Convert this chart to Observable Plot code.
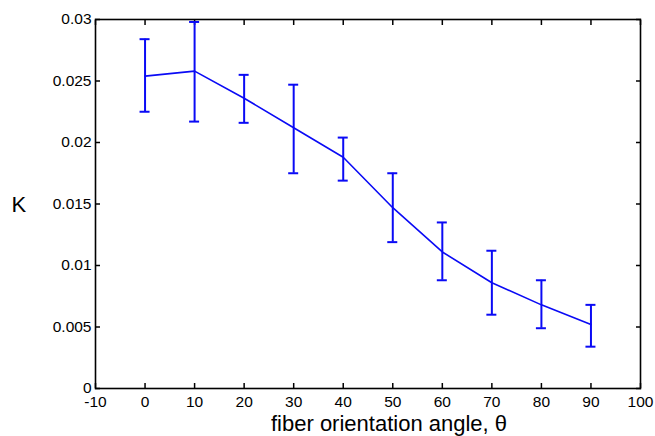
<!DOCTYPE html>
<html>
<head>
<meta charset="utf-8">
<script src="https://cdn.jsdelivr.net/npm/d3@7"></script>
<script src="https://cdn.jsdelivr.net/npm/@observablehq/plot@0.6"></script>
<style>
  html, body { margin: 0; padding: 0; background: #fff; }
  #chart g[aria-label="x-axis tick label"],
  #chart g[aria-label="y-axis tick label"] { font-size: 15.5px; fill: #000; }
</style>
</head>
<body>
<div id="chart"></div>
<script>
// Data
const angles = [0, 10, 20, 30, 40, 50, 60, 70, 80, 90];
const kMean  = [0.0254, 0.0258, 0.0236, 0.0212, 0.0188, 0.0147, 0.0111, 0.0086, 0.0068, 0.0052];
const kUpper = [0.0284, 0.0298, 0.0255, 0.0247, 0.0204, 0.0175, 0.0135, 0.0112, 0.0088, 0.0068];
const kLower = [0.0225, 0.0217, 0.0216, 0.0175, 0.0169, 0.0119, 0.0088, 0.0060, 0.0049, 0.0034];

const xTicks = [-10, 0, 10, 20, 30, 40, 50, 60, 70, 80, 90, 100];
const xTickLabels = ["-10", "0", "10", "20", "30", "40", "50", "60", "70", "80", "90", "100"];
const yTicks = [0, 0.005, 0.01, 0.015, 0.02, 0.025, 0.03];
const yTickLabels = ["0", "0.005", "0.01", "0.015", "0.02", "0.025", "0.03"];

const xLabel = "fiber orientation angle, \u03b8";
const yLabel = "K";

const data = angles.map((a, i) => ({x: a, k: kMean[i], hi: kUpper[i], lo: kLower[i]}));
const blue = "#0a0af5";
const font = "'Liberation Sans', Arial, Helvetica, sans-serif";

const chart = Plot.plot({
  width: 655,
  height: 436,
  marginLeft: 95,
  marginRight: 15,
  marginTop: 19,
  marginBottom: 48,
  style: {fontFamily: font, fontSize: "15.5px", color: "#000", background: "#fff"},
  x: {domain: [-10, 100]},
  y: {domain: [0, 0.03]},
  marks: [
    Plot.frame({stroke: "#000", strokeWidth: 1.6}),
    Plot.axisX({anchor: "bottom", ticks: xTicks, tickFormat: (d) => xTickLabels[xTicks.indexOf(d)], tickSize: -5, tickPadding: 12, strokeWidth: 1.5, label: null}),
    Plot.axisX({anchor: "top", ticks: xTicks, tickFormat: () => "", tickSize: -5, strokeWidth: 1.5, label: null}),
    Plot.axisY({anchor: "left", ticks: yTicks, tickFormat: (d) => yTickLabels[yTicks.indexOf(d)], tickSize: -5, tickPadding: 9, strokeWidth: 1.5, label: null}),
    Plot.axisY({anchor: "right", ticks: yTicks, tickFormat: () => "", tickSize: -5, strokeWidth: 1.5, label: null}),
    Plot.ruleX(data, {x: "x", y1: "lo", y2: "hi", stroke: blue, strokeWidth: 2}),
    Plot.ruleY(data, {y: "hi", x1: "x", x2: "x", insetLeft: -5, insetRight: -5, stroke: blue, strokeWidth: 2}),
    Plot.ruleY(data, {y: "lo", x1: "x", x2: "x", insetLeft: -5, insetRight: -5, stroke: blue, strokeWidth: 2}),
    Plot.line(data, {x: "x", y: "k", stroke: blue, strokeWidth: 1.6}),
    Plot.text([xLabel], {frameAnchor: "bottom", dy: 42, dx: 21, fontSize: 22, fill: "#000", fontFamily: font}),
    Plot.text([yLabel], {frameAnchor: "left", dx: -84, dy: 1, fontSize: 22, fill: "#000", fontFamily: font})
  ]
});
document.getElementById("chart").appendChild(chart);
</script>
</body>
</html>
